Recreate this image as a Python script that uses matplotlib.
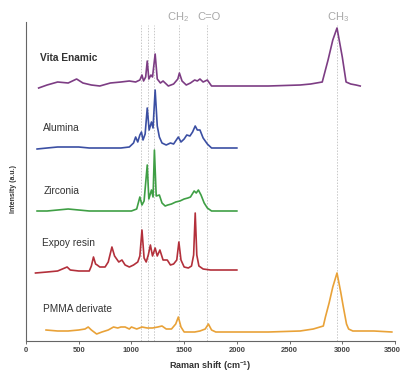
import matplotlib
matplotlib.use("Agg")
import matplotlib.pyplot as plt
import matplotlib.transforms as mtransforms

plt.rcParams['font.family'] = ['Liberation Sans', 'DejaVu Sans']
plt.rcParams['mathtext.default'] = 'regular'

# ---- data (intensity above each trace's baseline, a.u.) ----
vita_x = [120, 200, 300, 400, 480, 540, 620, 700, 800, 900, 980, 1040, 1080, 1100, 1115, 1135,
          1150, 1165, 1185, 1200, 1225, 1245, 1275, 1300, 1350, 1400, 1440, 1455, 1480, 1520,
          1560, 1600, 1625, 1650, 1680, 1700, 1720, 1760, 2000, 2300, 2600, 2700, 2810, 2865,
          2910, 2950, 3000, 3036, 3080, 3130, 3170]
vita_y = [-3, 0, 3, 2, 6, 2, 0, -1, 2, 3, 4, 3, 5, 10, 4, 8,
          24, 6, 10, 8, 31, 6, 2, 4, -1, 1, 6, 12, 4, 0,
          2, 5, 4, 6, 3, 4, 5, -1, -1, -1, 0, 1, 3, 25,
          45, 57, 28, 3, 1, 0, -1]

alumina_x = [105, 200, 300, 400, 500, 600, 700, 800, 900, 980, 1020, 1040, 1060, 1080, 1095, 1110,
             1130, 1150, 1168, 1190, 1205, 1225, 1245, 1265, 1290, 1330, 1370, 1400, 1445, 1470,
             1500, 1525, 1555, 1580, 1605, 1625, 1650, 1680, 1720, 1760, 1850, 2000]
alumina_y = [-1, 0, 1, 1, 1, 0, 0, 0, 0, 1, 5, 11, 6, 13, 16, 8,
             14, 40, 18, 26, 20, 58, 22, 11, 5, 3, 5, 4, 11, 6,
             9, 13, 12, 16, 22, 18, 18, 10, 4, 0, 0, 0]

zirconia_x = [105, 200, 300, 400, 500, 600, 700, 800, 900, 1000, 1050, 1080, 1100, 1120, 1150,
              1165, 1190, 1205, 1218, 1235, 1265, 1290, 1320, 1345, 1380, 1420, 1460, 1500, 1535,
              1560, 1595, 1615, 1635, 1660, 1690, 1720, 1760, 2000]
zirconia_y = [0, 0, 1, 2, 1, 0, 0, 0, 0, 0, 2, 14, 6, 10, 46,
              12, 21, 14, 61, 15, 16, 8, 5, 6, 7, 9, 10, 12, 13,
              14, 20, 18, 21, 16, 8, 3, 0, 0]

epoxy_x = [90, 200, 300, 390, 420, 500, 600, 620, 640, 660, 675, 700, 750, 780, 815, 840, 880,
           910, 940, 980, 1020, 1060, 1080, 1100, 1120, 1140, 1160, 1180, 1200, 1225, 1245, 1270,
           1300, 1340, 1370, 1400, 1430, 1450, 1470, 1500, 1540, 1570, 1590, 1605, 1620, 1640,
           1680, 1750, 2000]
epoxy_y = [-3, -2, -1, 3, 0, -1, -1, 4, 13, 6, 5, 3, 3, 8, 23, 14, 8,
           10, 5, 3, 5, 8, 14, 40, 12, 8, 15, 25, 14, 22, 14, 20,
           10, 10, 5, 6, 10, 28, 10, 3, 2, 4, 15, 57, 15, 4,
           1, 0, 0]

pmma_x = [190, 300, 400, 500, 560, 590, 620, 670, 720, 780, 830, 870, 900, 940, 980, 1000, 1050,
          1100, 1150, 1200, 1250, 1290, 1330, 1380, 1420, 1445, 1470, 1500, 1550, 1600, 1650,
          1700, 1730, 1760, 1800, 2000, 2300, 2600, 2725, 2820, 2840, 2875, 2910, 2950, 2985,
          3010, 3040, 3060, 3100, 3300, 3470]
pmma_y = [2, 1, 1, 2, 3, 5, 2, -2, 0, 2, 5, 4, 5, 5, 3, 5, 3,
          5, 4, 4, 5, 6, 3, 3, 8, 15, 5, 0, 0, 0, 1,
          3, 8, 2, 0, 0, 0, 1, 3, 6, 15, 29, 45, 59, 40,
          25, 8, 3, 1, 1, 0]

names = ["Vita Enamic", "Alumina", "Zirconia", "Expoy resin", "PMMA derivate"]
colors = ["#7d3d84", "#3b4fa3", "#3f9f45", "#b3303b", "#e9a238"]
offsets = [256, 193, 130, 71, 9]

band_positions = [1090, 1155, 1215, 1455, 1720, 2950]
band_labels = ["CH$_2$", "C=O", "CH$_3$"]
band_label_x = [1440, 1735, 2960]

xticks = [0, 500, 1000, 1500, 2000, 2500, 3000, 3500]

# ---- figure ----
fig = plt.figure(figsize=(4.02, 3.79), dpi=100)
ax = fig.add_axes([26 / 402, 1 - 341 / 379, 369 / 402, 319 / 379])

for xb in band_positions:
    ax.plot([xb, xb], [0, 316], color="#c8c8c8", lw=0.7, ls=(0, (1.5, 1.5)), zorder=1)

series = [(vita_x, vita_y), (alumina_x, alumina_y), (zirconia_x, zirconia_y),
          (epoxy_x, epoxy_y), (pmma_x, pmma_y)]
for (xs, ys), c, off in zip(series, colors, offsets):
    ax.plot(xs, [v + off for v in ys], color=c, lw=1.2, zorder=3)

label_pos = [(130, 283, "bold"), (165, 213, "normal"), (165, 150, "normal"),
             (155, 98, "normal"), (165, 32, "normal")]
for name, (lx, ly, w) in zip(names, label_pos):
    ax.text(lx, ly, name, fontsize=7.3, fontweight=w, color="#333333", ha="left", va="center")

for lbl, lx in zip(band_labels, band_label_x):
    ax.text(lx, 324, lbl, fontsize=8, color="#a8a8a8", ha="center", va="center", clip_on=False)

ax.set_xlim(0, 3500)
ax.set_ylim(0, 319)
ax.set_xticks(xticks)
ax.set_xticklabels([str(t) for t in xticks], fontsize=5.5, fontweight="bold", color="#444444")
ax.tick_params(axis="x", length=2, width=0.6, pad=2, color="#555555")
last = ax.get_xticklabels()[-1]
last.set_transform(last.get_transform() + mtransforms.ScaledTranslation(-3 / 100, 0, fig.dpi_scale_trans))
ax.set_yticks([])
for s in ["top", "right"]:
    ax.spines[s].set_visible(False)
for s in ["left", "bottom"]:
    ax.spines[s].set_color("#666666")
    ax.spines[s].set_linewidth(0.8)

ax.set_xlabel("Raman shift (cm$^{-1}$)", fontsize=6.5, fontweight="bold", color="#333333", labelpad=4)
fig.text(14 / 402, 1 - 189 / 379, "Intensity (a.u.)", rotation=90, fontsize=5, fontweight="bold",
         color="#333333", ha="center", va="center")

fig.savefig("out.png", dpi=100)
